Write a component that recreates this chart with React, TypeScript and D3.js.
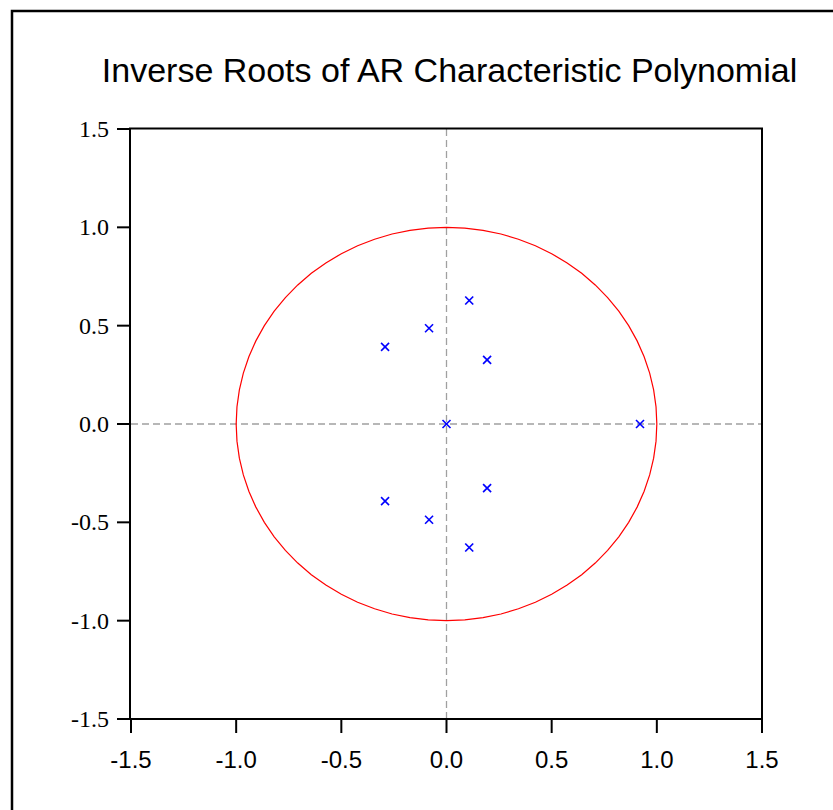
import * as d3 from 'd3';

// inverse roots of the AR polynomial (real, imaginary)
const rootRe = [0.92, 0.0, 0.108, 0.108, -0.083, -0.083, -0.292, -0.292, 0.193, 0.193];
const rootIm = [0.0, 0.0, 0.628, -0.628, 0.487, -0.487, 0.392, -0.392, 0.326, -0.326];

const xTickValues = [-1.5, -1.0, -0.5, 0.0, 0.5, 1.0, 1.5];
const yTickValues = [-1.5, -1.0, -0.5, 0.0, 0.5, 1.0, 1.5];
const circleSteps = 72;

const W = 833;
const H = 810;

export default function App() {
  const x = d3.scaleLinear().domain([-1.5, 1.5]).range([131, 762]);
  const y = d3.scaleLinear().domain([-1.5, 1.5]).range([719, 129]);

  // unit circle drawn as a polygon, the way the source package does it
  const angles = d3.range(circleSteps + 1).map((i) => (i / circleSteps) * 2 * Math.PI);
  const circle = d3
    .line<number>()
    .x((a) => x(Math.cos(a)))
    .y((a) => y(Math.sin(a)))(angles);

  const sans = '"Liberation Sans", Arial, sans-serif';
  const serif = '"Liberation Serif", "Times New Roman", serif';

  return (
    <svg
      width={W}
      height={H}
      style={{ position: 'absolute', left: 0, top: 0, background: '#fff' }}
    >
      {/* outer frame */}
      <rect x={12} y={11} width={W + 20} height={H + 20} fill="none" stroke="#000" strokeWidth={2.5} />

      <text
        x={449.5}
        y={82}
        textAnchor="middle"
        fontFamily={sans}
        fontSize={34}
        fill="#000"
      >
        Inverse Roots of AR Characteristic Polynomial
      </text>

      {/* zero reference lines */}
      <line x1={x(0)} x2={x(0)} y1={y(1.5)} y2={y(-1.5)} stroke="#a0a0a0" strokeWidth={1.3} strokeDasharray="7 4" />
      <line x1={x(-1.5)} x2={x(1.5)} y1={y(0)} y2={y(0)} stroke="#a0a0a0" strokeWidth={1.3} strokeDasharray="7 4" />

      <path d={circle ?? undefined} fill="none" stroke="#ff0000" strokeWidth={1.2} />

      {rootRe.map((re, i) => {
        const cx = x(re);
        const cy = y(rootIm[i]);
        const s = 4;
        return (
          <g key={i} stroke="#0000ff" strokeWidth={1.6}>
            <line x1={cx - s} x2={cx + s} y1={cy - s} y2={cy + s} />
            <line x1={cx - s} x2={cx + s} y1={cy + s} y2={cy - s} />
          </g>
        );
      })}

      {/* plot box */}
      <rect x={130} y={128.5} width={632} height={590.5} fill="none" stroke="#000" strokeWidth={2} />

      {yTickValues.map((t) => (
        <g key={`y${t}`}>
          <line x1={117} x2={130} y1={y(t)} y2={y(t)} stroke="#000" strokeWidth={2} />
          <text
            x={109}
            y={y(t)}
            dy="0.33em"
            textAnchor="end"
            fontFamily={serif}
            fontSize={24}
            fill="#000"
          >
            {t.toFixed(1)}
          </text>
        </g>
      ))}

      {xTickValues.map((t) => (
        <g key={`x${t}`}>
          <line x1={x(t)} x2={x(t)} y1={719} y2={733} stroke="#000" strokeWidth={2} />
          <text
            x={x(t)}
            y={768}
            textAnchor="middle"
            fontFamily={sans}
            fontSize={24}
            fill="#000"
          >
            {t.toFixed(1)}
          </text>
        </g>
      ))}
    </svg>
  );
}
